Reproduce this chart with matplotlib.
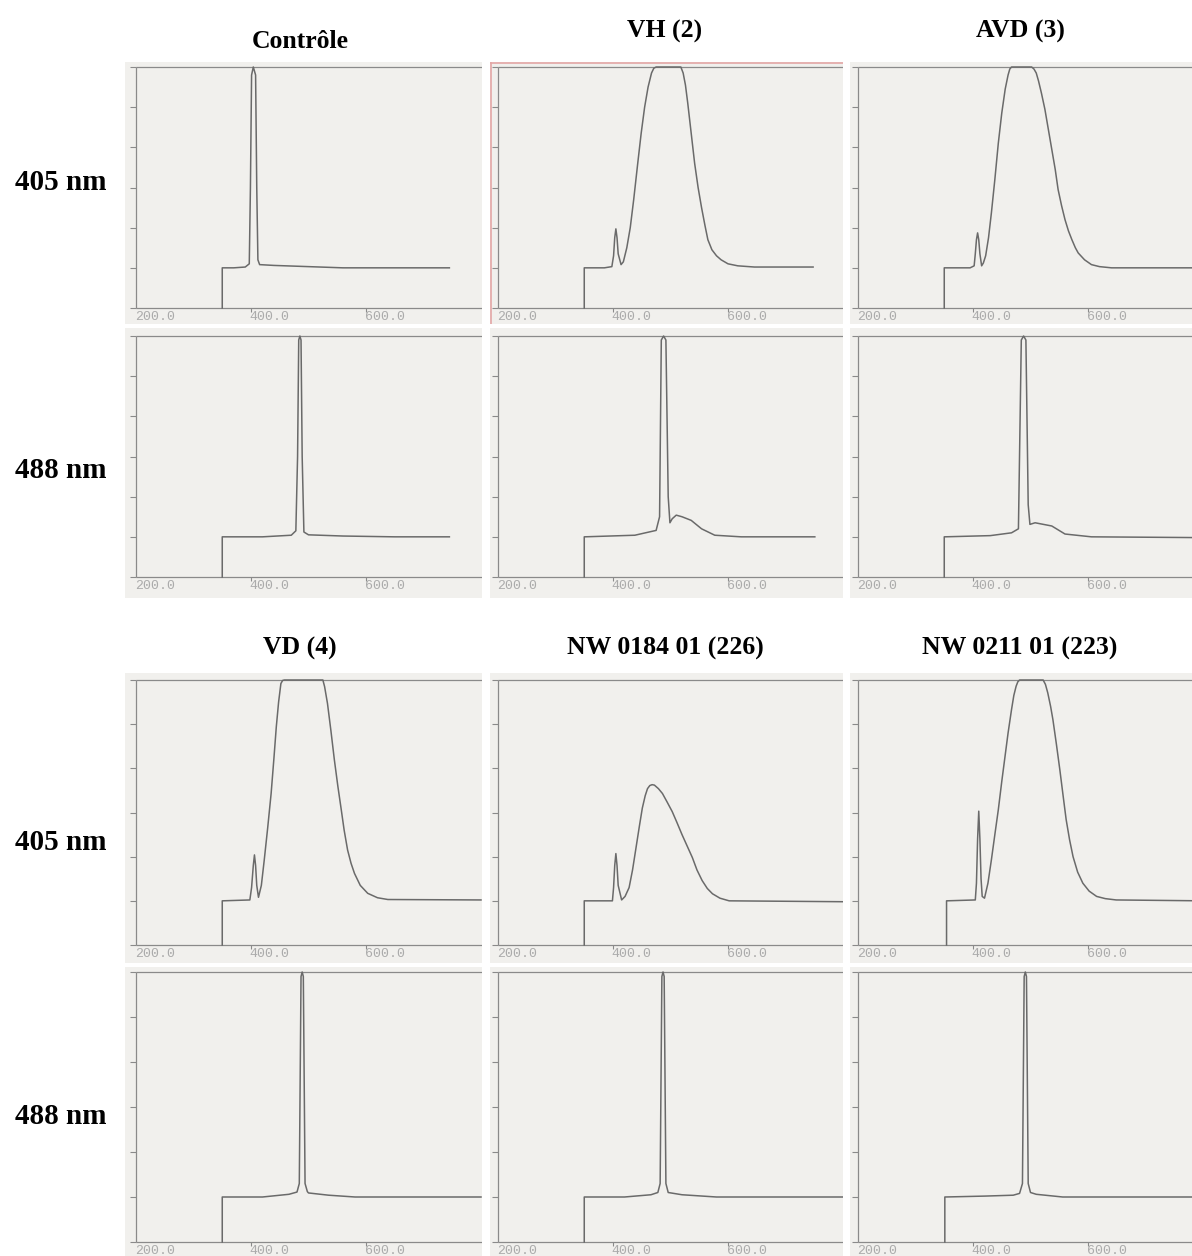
import matplotlib.pyplot as plt

# column / row labels
col_titles_top = ["Contrôle", "VH (2)", "AVD (3)"]
col_titles_bottom = ["VD (4)", "NW 0184 01 (226)", "NW 0211 01 (223)"]
row_labels = ["405 nm", "488 nm", "405 nm", "488 nm"]
x_ticks = [200, 400, 600]
x_tick_labels = ["200.0", "400.0", "600.0"]
y_ticks = [0, 1, 2, 3, 4, 5, 6]

# spectra (wavelength nm, relative intensity 0-6)
ctrl_405_nm = [350, 350, 370, 390, 397, 399, 401, 404, 408, 410, 412, 415, 440, 500, 560, 650, 745]
ctrl_405_y = [0, 1, 1.0, 1.02, 1.1, 3.0, 5.8, 6.0, 5.8, 3.0, 1.2, 1.08, 1.06, 1.03, 1.0, 1.0, 1.0]
vh_405_nm = [350, 350, 385, 398, 401, 403, 405, 407, 409, 414, 418, 424, 430, 436, 443, 449,
             455, 461, 467, 471, 475, 518, 522, 526, 530, 536, 542, 548, 554, 560, 565, 572,
             580, 588, 600, 617, 646, 748]
vh_405_y = [0, 1, 1.0, 1.03, 1.3, 1.75, 1.97, 1.75, 1.35, 1.08, 1.15, 1.5, 2.0, 2.7, 3.6, 4.35,
            5.0, 5.5, 5.85, 5.97, 6.0, 6.0, 5.85, 5.55, 5.1, 4.35, 3.6, 3.0, 2.5, 2.05, 1.7, 1.45,
            1.3, 1.2, 1.1, 1.05, 1.02, 1.02]
avd_405_nm = [350, 350, 395, 402, 404, 406, 408, 410, 412, 415, 418, 422, 427, 432, 438, 444,
              450, 456, 461, 464, 467, 502, 506, 510, 514, 519, 525, 531, 537, 543, 548, 554,
              560, 566, 572, 578, 583, 594, 606, 620, 641, 800]
avd_405_y = [0, 1, 1.0, 1.05, 1.35, 1.7, 1.87, 1.7, 1.35, 1.05, 1.12, 1.3, 1.75, 2.37, 3.2, 4.1,
             4.85, 5.45, 5.8, 5.95, 6.0, 6.0, 5.95, 5.85, 5.65, 5.35, 4.95, 4.45, 3.95, 3.45, 2.95, 2.55,
             2.2, 1.92, 1.7, 1.5, 1.37, 1.2, 1.08, 1.03, 1.0, 1.0]

ctrl_488_nm = [350, 350, 420, 470, 478, 481, 483, 485, 487, 489, 492, 500, 560, 650, 745]
ctrl_488_y = [0, 1, 1.0, 1.04, 1.15, 3.0, 5.9, 6.0, 5.9, 3.0, 1.12, 1.05, 1.02, 1.0, 1.0]
vh_488_nm = [350, 350, 438, 475, 481, 484, 488, 492, 496, 499, 503, 510, 520, 536, 554, 577, 623, 751]
vh_488_y = [0, 1, 1.04, 1.16, 1.5, 5.9, 6.0, 5.9, 2.0, 1.35, 1.45, 1.54, 1.5, 1.41, 1.2, 1.04, 1.0, 1.0]
avd_488_nm = [350, 350, 430, 467, 479, 484, 488, 492, 496, 499, 508, 537, 560, 606, 800]
avd_488_y = [0, 1, 1.03, 1.1, 1.2, 5.9, 6.0, 5.9, 1.8, 1.31, 1.35, 1.27, 1.07, 1.0, 0.98]

vd_405_nm = [350, 350, 398, 401, 404, 406, 408, 410, 413, 418, 423, 429, 435, 440, 444, 448,
             452, 455, 458, 525, 528, 533, 539, 545, 551, 557, 562, 568, 574, 580, 590, 603,
             620, 638, 800]
vd_405_y = [0, 1, 1.02, 1.3, 1.8, 2.04, 1.8, 1.35, 1.08, 1.35, 1.92, 2.65, 3.43, 4.25, 4.94, 5.5,
            5.92, 5.99, 6.0, 6.0, 5.85, 5.47, 4.85, 4.19, 3.6, 3.06, 2.6, 2.15, 1.85, 1.62, 1.35, 1.17,
            1.07, 1.03, 1.02]
nw184_405_nm = [350, 350, 399, 401, 403, 405, 407, 409, 415, 421, 428, 434, 440, 446, 451, 456,
                460, 464, 468, 472, 479, 486, 494, 503, 511, 520, 529, 538, 546, 555, 564, 573,
                586, 602, 800]
nw184_405_y = [0, 1, 1.0, 1.3, 1.8, 2.07, 1.8, 1.35, 1.02, 1.1, 1.3, 1.7, 2.2, 2.7, 3.1, 3.38,
               3.54, 3.61, 3.63, 3.62, 3.54, 3.43, 3.24, 3.02, 2.78, 2.5, 2.24, 1.98, 1.7, 1.46, 1.28, 1.16,
               1.06, 1.0, 0.98]
nw211_405_nm = [354, 354, 404, 406, 408, 410, 412, 414, 416, 420, 426, 432, 438, 444, 450, 455,
                461, 467, 471, 475, 478, 481, 522, 526, 530, 535, 539, 545, 551, 557, 562, 568,
                574, 582, 591, 602, 615, 630, 649, 800]
nw211_405_y = [0, 1, 1.02, 1.4, 2.4, 3.03, 2.4, 1.5, 1.1, 1.06, 1.4, 1.93, 2.5, 3.06, 3.7, 4.2,
               4.8, 5.33, 5.65, 5.86, 5.96, 6.0, 6.0, 5.9, 5.71, 5.4, 5.1, 4.55, 3.97, 3.35, 2.84, 2.38,
               2.0, 1.65, 1.4, 1.22, 1.1, 1.05, 1.02, 1.0]

vd_488_nm = [350, 350, 420, 466, 480, 484, 487, 489, 491, 494, 498, 500, 535, 581, 800]
vd_488_y = [0, 1, 1.0, 1.06, 1.11, 1.3, 5.9, 6.0, 5.9, 1.3, 1.12, 1.09, 1.04, 1.0, 1.0]
nw184_488_nm = [350, 350, 420, 466, 478, 482, 485, 487, 489, 492, 496, 520, 580, 800]
nw184_488_y = [0, 1, 1.0, 1.05, 1.1, 1.3, 5.9, 6.0, 5.9, 1.3, 1.1, 1.05, 1.0, 1.0]
nw211_488_nm = [351, 351, 420, 470, 481, 486, 489, 491, 493, 496, 500, 510, 556, 800]
nw211_488_y = [0, 1, 1.02, 1.04, 1.08, 1.3, 5.9, 6.0, 5.9, 1.3, 1.1, 1.06, 1.0, 1.0]

grid = [
    [(ctrl_405_nm, ctrl_405_y), (vh_405_nm, vh_405_y), (avd_405_nm, avd_405_y)],
    [(ctrl_488_nm, ctrl_488_y), (vh_488_nm, vh_488_y), (avd_488_nm, avd_488_y)],
    [(vd_405_nm, vd_405_y), (nw184_405_nm, nw184_405_y), (nw211_405_nm, nw211_405_y)],
    [(vd_488_nm, vd_488_y), (nw184_488_nm, nw184_488_y), (nw211_488_nm, nw211_488_y)],
]

W, H = 1192, 1256
PX_PER_NM = 0.575

# panel boxes in pixels: (left, right, spine_x) and (top, bottom, y6_px, y0_px)
cols = [(125, 482, 136), (490, 843, 498), (850, 1192, 858)]
rows = [(62, 324, 67, 308), (328, 598, 336, 577), (673, 963, 680, 945), (967, 1256, 972, 1242)]

fig = plt.figure(figsize=(W / 100, H / 100), dpi=100)
fig.patch.set_facecolor("white")

paper = "#f1f0ed"
axis_c = "#8a8a8a"
line_c = "#6a6a6a"

for r, (top, bot, y6, y0) in enumerate(rows):
    for c, (left, right, spine) in enumerate(cols):
        ax = fig.add_axes([left / W, 1 - bot / H, (right - left) / W, (bot - top) / H])
        ax.set_facecolor(paper)
        for s in ax.spines.values():
            s.set_visible(False)
        ax.set_xticks([])
        ax.set_yticks([])

        per_unit = (y0 - y6) / 6
        x_lo = 200 - (spine - left) / PX_PER_NM
        x_hi = x_lo + (right - left) / PX_PER_NM
        y_hi = 6 + (y6 - top) / per_unit
        y_lo = -(bot - y0) / per_unit
        ax.set_xlim(x_lo, x_hi)
        ax.set_ylim(y_lo, y_hi)

        # printed frame of the spectrometer chart
        ax.vlines(x_ticks[0], y_ticks[0], y_ticks[-1], color=axis_c, lw=0.9)
        ax.hlines([y_ticks[0], y_ticks[-1]], x_ticks[0], x_hi, color=axis_c, lw=0.9)
        ax.plot([x_ticks[0]] * len(y_ticks), y_ticks, ls="none", marker=0,
                ms=4, mew=0.8, color=axis_c)
        ax.plot(x_ticks[1:], [0] * (len(x_ticks) - 1), ls="none", marker=3,
                ms=3, mew=0.8, color=axis_c)
        for xt, lab in zip(x_ticks, x_tick_labels):
            ax.text(xt - 2, -3 / per_unit, lab, ha="left", va="top",
                    fontsize=9.5, family="Liberation Mono", color="#ababab")

        nm, y = grid[r][c]
        ax.plot(nm, y, color=line_c, lw=1.1, solid_joinstyle="round")

        if r == 0 and c == 1:
            ax.axvline(x_lo + 0.5 / PX_PER_NM, color="#e3a6a6", lw=1.2)
            ax.axhline(y_hi - 0.5 / per_unit, color="#e3a6a6", lw=1.2)

title_kw = dict(ha="center", va="center", fontsize=18.5, weight="bold",
                family="Liberation Serif")
centers = [300 / W, 665 / W, 1020 / W]
for xc, t in zip(centers, col_titles_top):
    yy = 42 if t == "Contrôle" else 31
    fig.text(xc, 1 - yy / H, t, **title_kw)
for xc, t in zip(centers, col_titles_bottom):
    fig.text(xc, 1 - 648 / H, t, **title_kw)

row_y = [182, 470, 842, 1117]
for yy, t in zip(row_y, row_labels):
    fig.text(61 / W, 1 - yy / H, t, ha="center", va="center", fontsize=21,
             weight="bold", family="Liberation Serif")

plt.savefig("out.png", dpi=100, facecolor="white")
